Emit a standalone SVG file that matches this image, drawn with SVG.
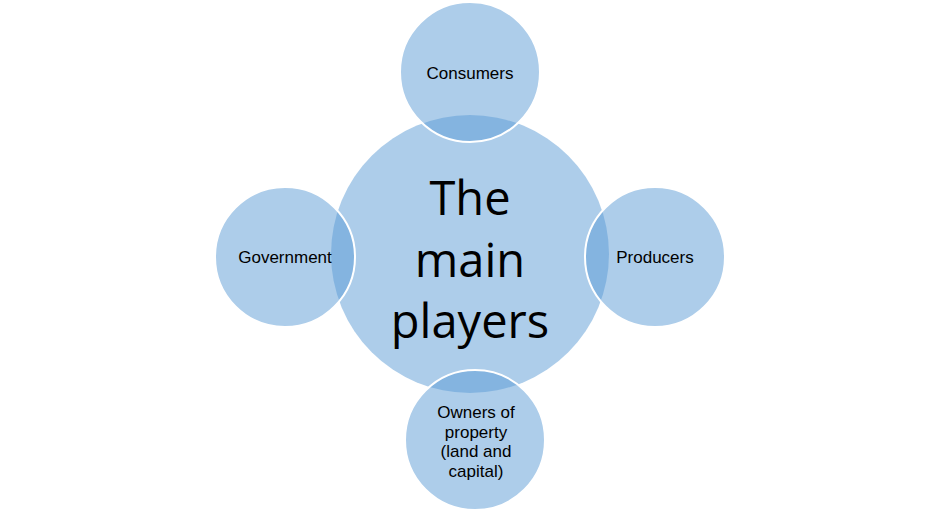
<svg xmlns="http://www.w3.org/2000/svg" width="941" height="515" viewBox="0 0 941 515">
  <style>
    .bub { fill: #5b9bd5; fill-opacity: 0.5; }
    .sat { stroke: #ffffff; stroke-width: 2; }
    .lbl { font-family: "Liberation Sans", Arial, sans-serif; font-size: 17px; fill: #000000; text-anchor: middle; }
    .big { font-family: "Open Sans", "Liberation Sans", sans-serif; font-size: 47px; fill: #000000; text-anchor: middle; }
  </style>
  <rect width="941" height="515" fill="#ffffff"/>
  <g id="center">
    <circle class="bub" cx="470" cy="254" r="139"/>
    <text class="big" x="470" y="215">The</text>
    <text class="big" x="470" y="277">main</text>
    <text class="big" x="470" y="338">players</text>
  </g>
  <g id="consumers">
    <circle class="bub sat" cx="470" cy="72" r="70"/>
    <text class="lbl" x="470" y="79">Consumers</text>
  </g>
  <g id="government">
    <circle class="bub sat" cx="285" cy="257" r="70"/>
    <text class="lbl" x="285" y="263">Government</text>
  </g>
  <g id="producers">
    <circle class="bub sat" cx="655" cy="257" r="70"/>
    <text class="lbl" x="655" y="263">Producers</text>
  </g>
  <g id="owners">
    <circle class="bub sat" cx="475" cy="440" r="70"/>
    <text class="lbl" x="476" y="418">Owners of</text>
    <text class="lbl" x="476" y="437.5">property</text>
    <text class="lbl" x="476" y="457">(land and</text>
    <text class="lbl" x="476" y="476.5">capital)</text>
  </g>
</svg>
